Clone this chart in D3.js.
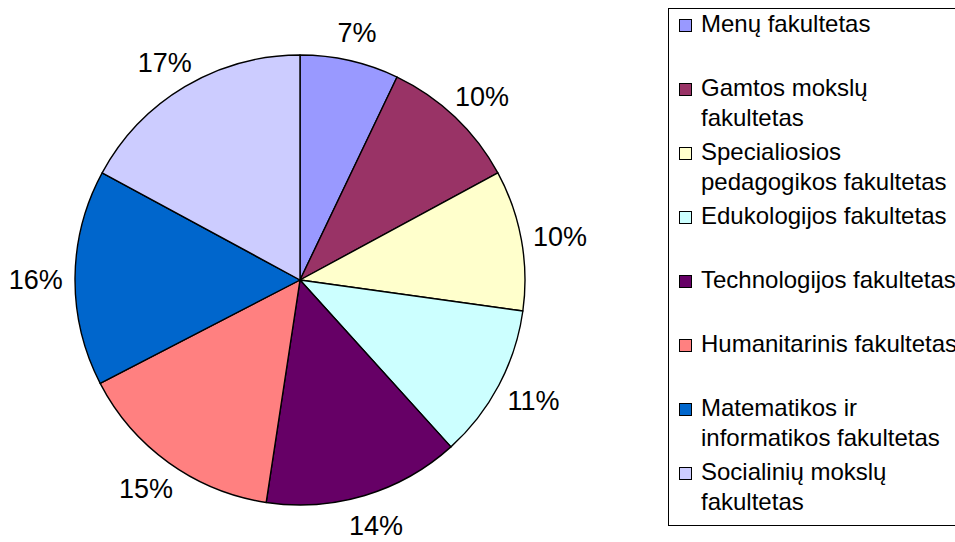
<!DOCTYPE html>
<html>
<head>
<meta charset="utf-8">
<script src="https://cdn.jsdelivr.net/npm/d3@7"></script>
<style>
  html, body { margin: 0; padding: 0; background: #fff; overflow: hidden; }
  svg { display: block; font-family: "Liberation Sans", Arial, sans-serif; }
</style>
</head>
<body>
<svg id="chart" width="955" height="542"></svg>
<script>
// Data
const categories = [
  "Menų fakultetas",
  "Gamtos mokslų fakultetas",
  "Specialiosios pedagogikos fakultetas",
  "Edukologijos fakultetas",
  "Technologijos fakultetas",
  "Humanitarinis fakultetas",
  "Matematikos ir informatikos fakultetas",
  "Socialinių mokslų fakultetas"
];
const legendLines = [
  ["Menų fakultetas"],
  ["Gamtos mokslų", "fakultetas"],
  ["Specialiosios", "pedagogikos fakultetas"],
  ["Edukologijos fakultetas"],
  ["Technologijos fakultetas"],
  ["Humanitarinis fakultetas"],
  ["Matematikos ir", "informatikos fakultetas"],
  ["Socialinių mokslų", "fakultetas"]
];
const values = [7.1, 10.0, 10.1, 11.1, 14.1, 15.0, 15.5, 17.1];
const colors = ["#9999FF", "#993366", "#FFFFCC", "#CCFFFF", "#660066", "#FF8080", "#0066CC", "#CCCCFF"];

const svg = d3.select("#chart");
const cx = 300, cy = 280, R = 225;
const total = d3.sum(values);

const pie = d3.pie().value(d => d).sort(null);
const arcs = pie(values);
const arc = d3.arc().innerRadius(0).outerRadius(R);

const g = svg.append("g").attr("transform", `translate(${cx},${cy})`);
g.selectAll("path.slice")
  .data(arcs)
  .enter().append("path")
  .attr("class", "slice")
  .attr("d", arc)
  .attr("fill", (d, i) => colors[i])
  .attr("stroke", "#000")
  .attr("stroke-width", 1.4)
  .attr("stroke-linejoin", "round");

// Labels
const labelFont = 27;
const R0 = 244;
const fmt = v => Math.round(v / total * 100) + "%";
g.selectAll("text.lbl")
  .data(arcs)
  .enter().append("text")
  .attr("class", "lbl")
  .each(function(d) {
    const a = (d.startAngle + d.endAngle) / 2;
    const s = Math.sin(a), c = Math.cos(a);
    const txt = fmt(d.value);
    const w = txt.length * 13.5, h = 22;
    const x = s * R0 + s * w / 2;
    const y = -c * R0 - c * h / 2 + 2;
    d3.select(this)
      .attr("x", x)
      .attr("y", y)
      .attr("text-anchor", "middle")
      .attr("dominant-baseline", "central")
      .attr("font-size", labelFont)
      .attr("fill", "#000")
      .text(txt);
  });

// Legend
const lg = svg.append("g");
lg.append("rect")
  .attr("x", 668.5).attr("y", 8.5)
  .attr("width", 400).attr("height", 517)
  .attr("fill", "#fff").attr("stroke", "#000").attr("stroke-width", 1);

const legendTop = 32, legendStep = 64, lineH = 29.5;
categories.forEach((cat, i) => {
  const by = legendTop + i * legendStep;
  lg.append("rect")
    .attr("x", 679.5).attr("y", by - 12.5)
    .attr("width", 12).attr("height", 12)
    .attr("fill", colors[i]).attr("stroke", "#000").attr("stroke-width", 1);
  const t = lg.append("text")
    .attr("x", 701).attr("y", by)
    .attr("font-size", 24).attr("fill", "#000");
  legendLines[i].forEach((ln, j) => {
    t.append("tspan").attr("x", 701).attr("y", by + j * lineH).text(ln);
  });
});
</script>
</body>
</html>
